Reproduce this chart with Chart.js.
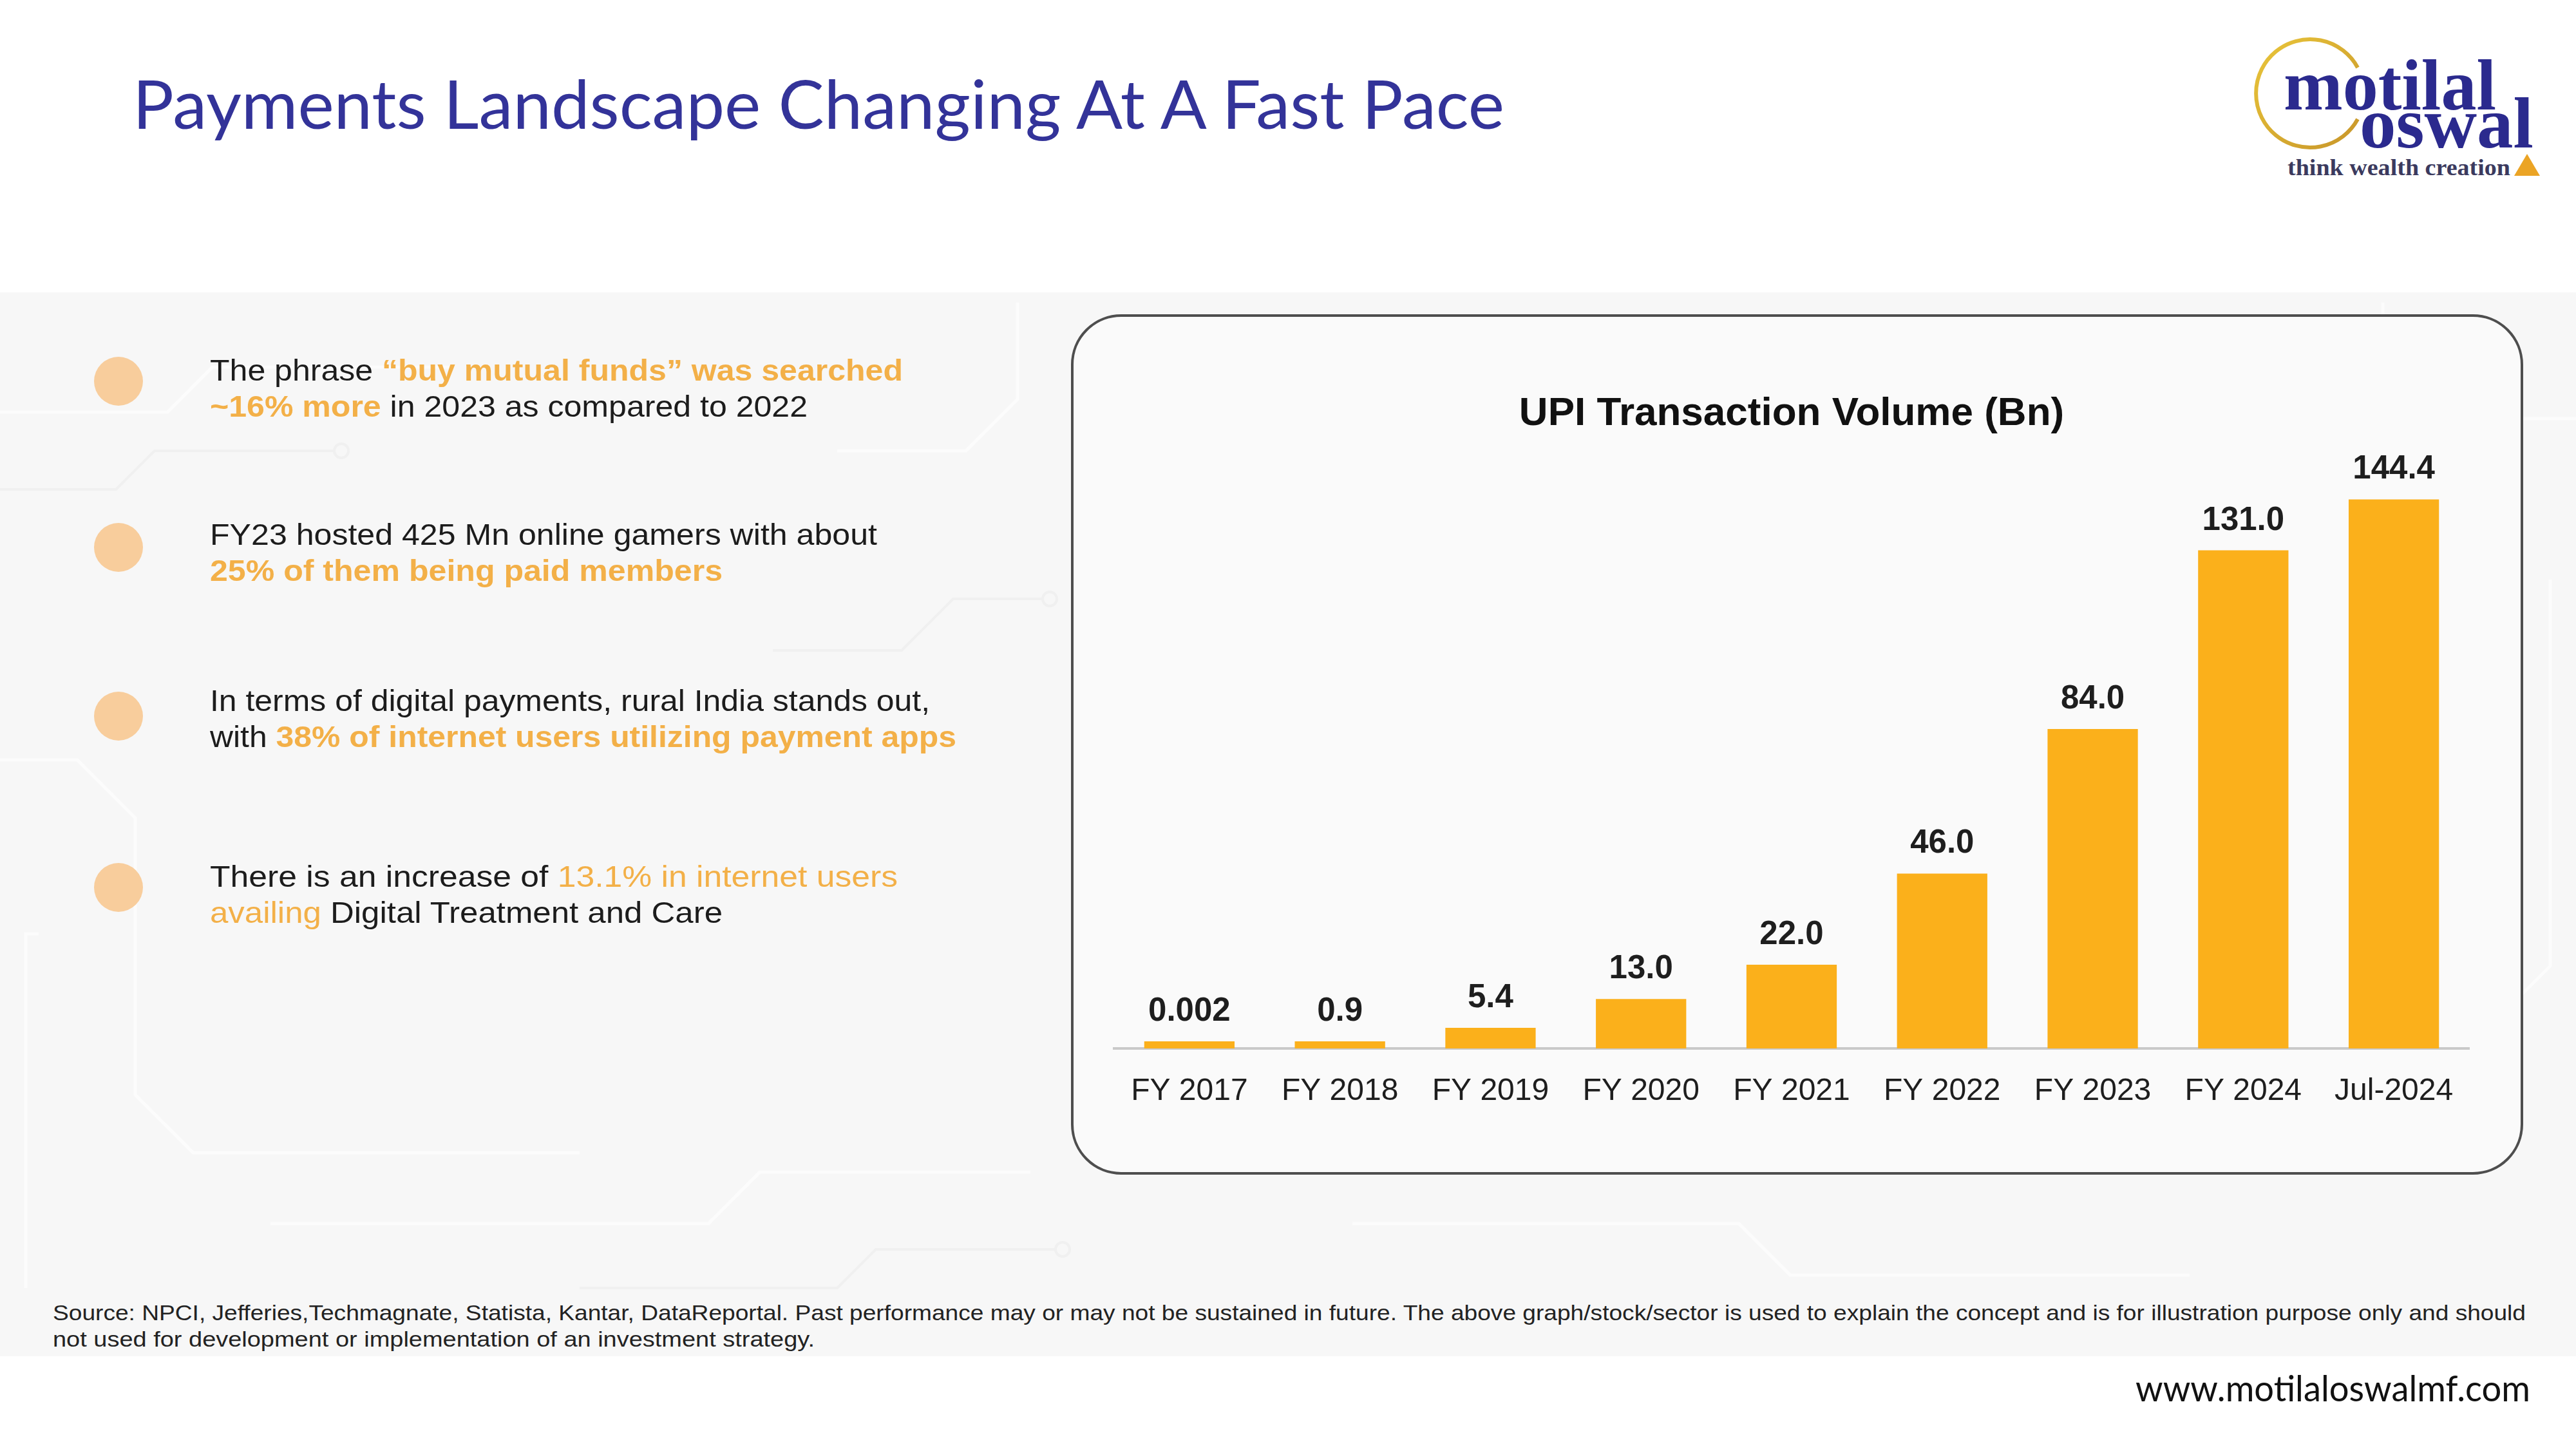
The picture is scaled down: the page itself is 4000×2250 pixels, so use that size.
<!DOCTYPE html>
<html>
<head>
<meta charset="utf-8">
<script src="https://cdn.jsdelivr.net/npm/chart.js@4.4.1/dist/chart.umd.min.js"></script>
<style>
  html, body { margin: 0; padding: 0; background: #fff; }
  #page { position: relative; width: 4000px; height: 2250px; overflow: hidden; }
  #deco { position: absolute; left: 0; top: 0; }
  #upi { position: absolute; left: 1665px; top: 495px; }
  .txt { font-family: "Liberation Sans", Arial, sans-serif; fill: #1c1c1c; }
  .hl { fill: #F3B048; font-weight: bold; }
  .hl2 { fill: #F3B048; }
</style>
</head>
<body>
<div id="page">
  <svg id="deco" width="4000" height="2250" viewBox="0 0 4000 2250">
    <!-- light panel behind the content -->
    <rect x="0" y="454" width="4000" height="1652" fill="#F7F7F7"/>
    <g fill="none" stroke="#FCFCFC" stroke-width="5">
      <path d="M0 640 H260 L330 570 H700"/>
      <path d="M0 1180 H120 L210 1270 V1700 L300 1790 H900"/>
      <path d="M420 1900 H1100 L1180 1820 H1600"/>
      <path d="M1300 700 H1500 L1580 620 V470"/>
      <path d="M3700 470 V560 L3790 650 H4000"/>
      <path d="M3960 900 V1500 L3880 1580"/>
      <path d="M2100 1900 H2700 L2780 1980 H3400"/>
      <path d="M60 1450 H40 V2000"/>
    </g>
    <g fill="none" stroke="#F0F0F0" stroke-width="4">
      <path d="M0 760 H180 L240 700 H520"/>
      <path d="M1200 1010 H1400 L1480 930 H1620"/>
      <path d="M900 2000 H1300 L1360 1940 H1640"/>
      <circle cx="530" cy="700" r="11"/>
      <circle cx="1630" cy="930" r="11"/>
      <circle cx="1650" cy="1940" r="11"/>
    </g>

    <!-- chart frame -->
    <rect x="1665" y="490" width="2251" height="1332" rx="76" ry="76" fill="#FAFAFA" stroke="#4E4E4E" stroke-width="4"/>

    <!-- title -->
    <text x="206" y="200" font-family="Lato, 'Open Sans', sans-serif" font-size="104" fill="#333399"
          textLength="2130" lengthAdjust="spacingAndGlyphs">Payments Landscape Changing At A Fast Pace</text>

    <!-- logo -->
    <defs>
      <linearGradient id="gold" x1="0" y1="0" x2="1" y2="1">
        <stop offset="0" stop-color="#E9C53A"/>
        <stop offset="1" stop-color="#C8962A"/>
      </linearGradient>
    </defs>
    <path d="M3661 185 A84 84 0 1 1 3661 105" fill="none" stroke="url(#gold)" stroke-width="6"/>
    <text x="3546" y="170" font-family="'Liberation Serif', 'DejaVu Serif', serif" font-weight="bold" font-size="112"
          fill="#2B2A8E" textLength="330" lengthAdjust="spacingAndGlyphs">motilal</text>
    <text x="3664" y="229" font-family="'Liberation Serif', 'DejaVu Serif', serif" font-weight="bold" font-size="112"
          fill="#2B2A8E" textLength="270" lengthAdjust="spacingAndGlyphs">oswal</text>
    <text x="3552" y="272" font-family="'Liberation Serif', 'DejaVu Serif', serif" font-weight="bold" font-size="36"
          fill="#3B3A5E" textLength="346" lengthAdjust="spacingAndGlyphs">think wealth creation</text>
    <polygon points="3904,273 3944,273 3924,239" fill="#EBA425"/>

    <!-- bullets -->
    <g fill="#F8CD9C">
      <circle cx="184" cy="592" r="38"/>
      <circle cx="184" cy="850" r="38"/>
      <circle cx="184" cy="1112" r="38"/>
      <circle cx="184" cy="1378" r="38"/>
    </g>
    <g class="txt" font-size="47">
      <text x="326" y="591" textLength="1076" lengthAdjust="spacingAndGlyphs">The phrase <tspan class="hl">“buy mutual funds” was searched</tspan></text>
      <text x="326" y="647" textLength="928" lengthAdjust="spacingAndGlyphs"><tspan class="hl">~16% more</tspan> in 2023 as compared to 2022</text>

      <text x="326" y="846" textLength="1036" lengthAdjust="spacingAndGlyphs">FY23 hosted 425 Mn online gamers with about</text>
      <text x="326" y="902" textLength="796" lengthAdjust="spacingAndGlyphs"><tspan class="hl">25% of them being paid members</tspan></text>

      <text x="326" y="1104" textLength="1118" lengthAdjust="spacingAndGlyphs">In terms of digital payments, rural India stands out,</text>
      <text x="326" y="1160" textLength="1159" lengthAdjust="spacingAndGlyphs">with <tspan class="hl">38% of internet users utilizing payment apps</tspan></text>

      <text x="326" y="1377" textLength="1068" lengthAdjust="spacingAndGlyphs">There is an increase of <tspan class="hl2">13.1% in internet users</tspan></text>
      <text x="326" y="1433" textLength="796" lengthAdjust="spacingAndGlyphs"><tspan class="hl2">availing</tspan> Digital Treatment and Care</text>
    </g>

    <!-- footer -->
    <g class="txt" font-size="33" style="fill:#222">
      <text x="82" y="2050" textLength="3840" lengthAdjust="spacingAndGlyphs">Source: NPCI, Jefferies,Techmagnate, Statista, Kantar, DataReportal. Past performance may or may not be sustained in future. The above graph/stock/sector is used to explain the concept and is for illustration purpose only and should</text>
      <text x="82" y="2091" textLength="1183" lengthAdjust="spacingAndGlyphs">not used for development or implementation of an investment strategy.</text>
    </g>
    <text x="3316" y="2176" font-family="Lato, 'Open Sans', sans-serif" font-size="56" fill="#111"
          textLength="613" lengthAdjust="spacingAndGlyphs">www.motilaloswalmf.com</text>
  </svg>

  <canvas id="upi" width="2250" height="1320"></canvas>
</div>

<script>
// UPI transaction volume, billions
const categories = ["FY 2017", "FY 2018", "FY 2019", "FY 2020", "FY 2021", "FY 2022", "FY 2023", "FY 2024", "Jul-2024"];
const volumes = [0.002, 0.9, 5.4, 13.0, 22.0, 46.0, 84.0, 131.0, 144.4];
const valueLabels = ["0.002", "0.9", "5.4", "13.0", "22.0", "46.0", "84.0", "131.0", "144.4"];

Chart.defaults.font.family = "'Liberation Sans', Arial, sans-serif";
Chart.defaults.color = "#1e1e1e";

// writes the number above each bar
const barValues = {
  id: "barValues",
  afterDatasetsDraw(chart) {
    const ctx = chart.ctx;
    const meta = chart.getDatasetMeta(0);
    ctx.save();
    ctx.font = "bold 51px 'Liberation Sans', Arial, sans-serif";
    ctx.fillStyle = "#1e1e1e";
    ctx.textAlign = "center";
    ctx.textBaseline = "alphabetic";
    meta.data.forEach((bar, i) => {
      ctx.fillText(valueLabels[i], bar.x, bar.y - 32);
    });
    ctx.restore();
  }
};

const ctx = document.getElementById("upi").getContext("2d");
new Chart(ctx, {
  type: "bar",
  data: {
    labels: categories,
    datasets: [{
      data: volumes,
      backgroundColor: "#FBB01B",
      borderWidth: 0,
      barPercentage: 0.6,
      categoryPercentage: 1.0,
      minBarLength: 11
    }]
  },
  options: {
    responsive: false,
    devicePixelRatio: 1,
    animation: false,
    layout: { padding: { left: 65, right: 81, top: 0, bottom: 77 } },
    plugins: {
      legend: { display: false },
      tooltip: { enabled: false },
      title: {
        display: true,
        text: "UPI Transaction Volume (Bn)",
        color: "#111",
        font: { size: 62, weight: "bold" },
        padding: { top: 111, bottom: 62 }
      }
    },
    scales: {
      x: {
        grid: { display: false, drawTicks: false },
        border: { display: true, color: "#C9C9C9", width: 4 },
        ticks: { padding: 38, color: "#1e1e1e", font: { size: 48 } },
        afterFit(scale) { scale.height = 110; }
      },
      y: {
        display: false,
        min: 0,
        max: 150
      }
    }
  },
  plugins: [barValues]
});
</script>
</body>
</html>
